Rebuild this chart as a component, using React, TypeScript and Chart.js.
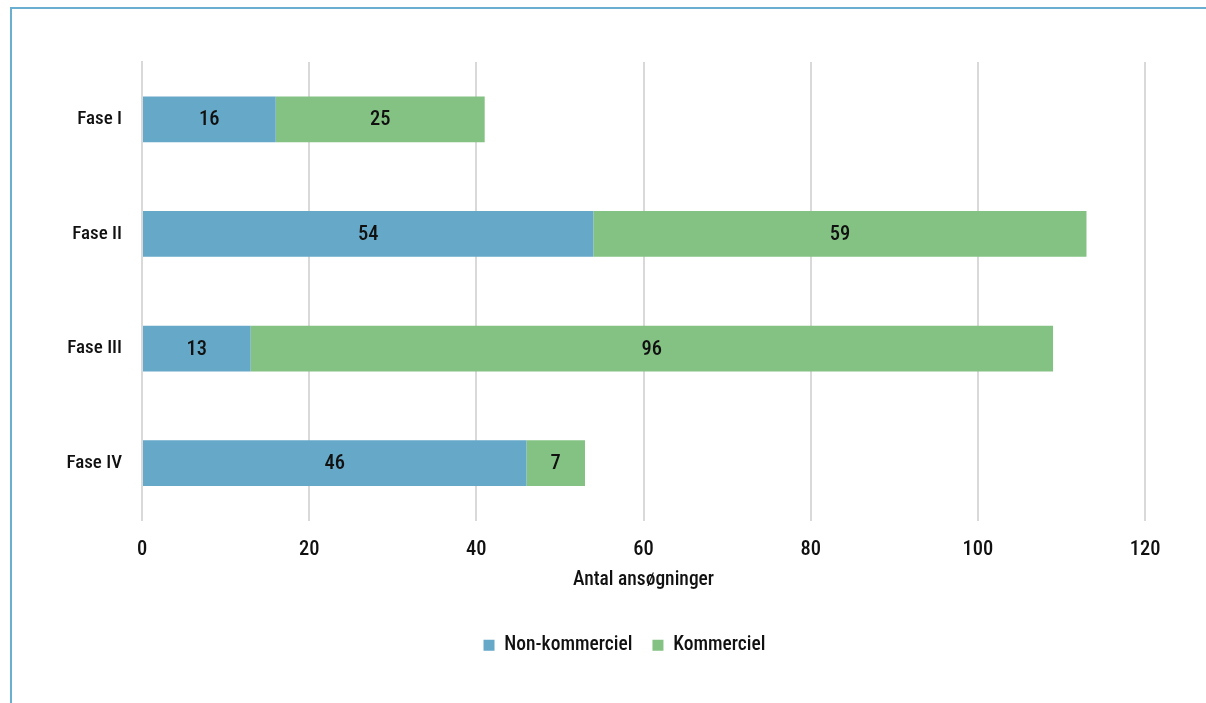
import React, { useEffect, useRef } from "react";
import { Chart, registerables } from "chart.js";

Chart.register(...registerables);

const categories = ["Fase I", "Fase II", "Fase III", "Fase IV"];
const nonKommerciel = [16, 54, 13, 46];
const kommerciel = [25, 59, 96, 7];
const seriesNames = ["Non-kommerciel", "Kommerciel"];
const xTicks = [0, 20, 40, 60, 80, 100, 120];

const FONT = "'Liberation Sans Narrow', 'Roboto Condensed', 'DejaVu Sans Condensed', 'Liberation Sans', sans-serif";
const WEIGHT = "500";
const BLUE = "#65a8c8";
const GREEN = "#83c283";

// Writes each segment's value in the middle of its bar
const barValueLabels = {
  id: "barValueLabels",
  afterDatasetsDraw(chart: any) {
    const ctx = chart.ctx;
    ctx.save();
    ctx.font = `${WEIGHT} 20.5px ${FONT}`;
    ctx.fillStyle = "#111";
    ctx.textAlign = "center";
    ctx.textBaseline = "middle";
    chart.data.datasets.forEach((ds: any, di: number) => {
      const meta = chart.getDatasetMeta(di);
      meta.data.forEach((bar: any, i: number) => {
        const v = ds.data[i];
        const { x, y, base } = bar.getProps(["x", "y", "base"], true);
        ctx.fillText(String(v), (x + base) / 2, y + 1);
      });
    });
    ctx.restore();
  },
};

// Centres the legend row under the frame rather than the whole canvas
const legendShift = {
  id: "legendShift",
  afterLayout(chart: any) {
    const lg = chart.legend;
    if (!lg) return;
    const dx = 52;
    lg.left += dx;
    lg.right += dx;
  },
};

export default function App() {
  const canvasRef = useRef<HTMLCanvasElement | null>(null);

  useEffect(() => {
    if (!canvasRef.current) return;
    const chart = new Chart(canvasRef.current, {
      type: "bar",
      data: {
        labels: categories,
        datasets: [
          { label: seriesNames[0], data: nonKommerciel, backgroundColor: BLUE, barPercentage: 0.4, categoryPercentage: 1 },
          { label: seriesNames[1], data: kommerciel, backgroundColor: GREEN, barPercentage: 0.4, categoryPercentage: 1 },
        ],
      },
      options: {
        indexAxis: "y",
        responsive: false,
        animation: false,
        layout: { padding: { top: 62, right: 61, bottom: 38, left: 0 } },
        scales: {
          x: {
            stacked: true,
            min: 0,
            max: 120,
            afterBuildTicks: (scale: any) => {
              scale.ticks = xTicks.map((v) => ({ value: v }));
            },
            afterFit: (scale: any) => {
              scale.height = 95;
            },
            grid: { color: "#d9d9d9", lineWidth: 2, drawTicks: false },
            border: { display: false },
            ticks: { color: "#111", font: { family: FONT, size: 20.5, weight: WEIGHT }, padding: 17 },
            title: {
              display: true,
              text: "Antal ansøgninger",
              color: "#111",
              font: { family: FONT, size: 19.5, weight: WEIGHT },
              padding: { top: 8, bottom: 24 },
            },
          },
          y: {
            stacked: true,
            afterFit: (scale: any) => {
              scale.width = 142;
            },
            grid: { display: false, drawTicks: false },
            border: { display: true, color: "#d9d9d9", width: 2 },
            ticks: { color: "#111", font: { family: FONT, size: 19, weight: WEIGHT }, padding: 20 },
          },
        },
        plugins: {
          legend: {
            position: "bottom",
            labels: {
              color: "#111",
              font: { family: FONT, size: 19.5, weight: WEIGHT },
              boxWidth: 11,
              boxHeight: 11,
              padding: 20,
            },
          },
          tooltip: { enabled: false },
        },
      },
      plugins: [barValueLabels, legendShift],
    });
    return () => chart.destroy();
  }, []);

  return (
    <div style={{ position: "absolute", left: 0, top: 0, width: 1206, height: 703, background: "#fff", overflow: "hidden" }}>
      <div
        style={{
          position: "absolute",
          left: 10,
          top: 7,
          width: 1220,
          height: 720,
          borderLeft: "2px solid #6aaed0",
          borderTop: "2px solid #6aaed0",
        }}
      />
      <canvas ref={canvasRef} width={1206} height={703} style={{ position: "absolute", left: 0, top: 0 }} />
    </div>
  );
}
